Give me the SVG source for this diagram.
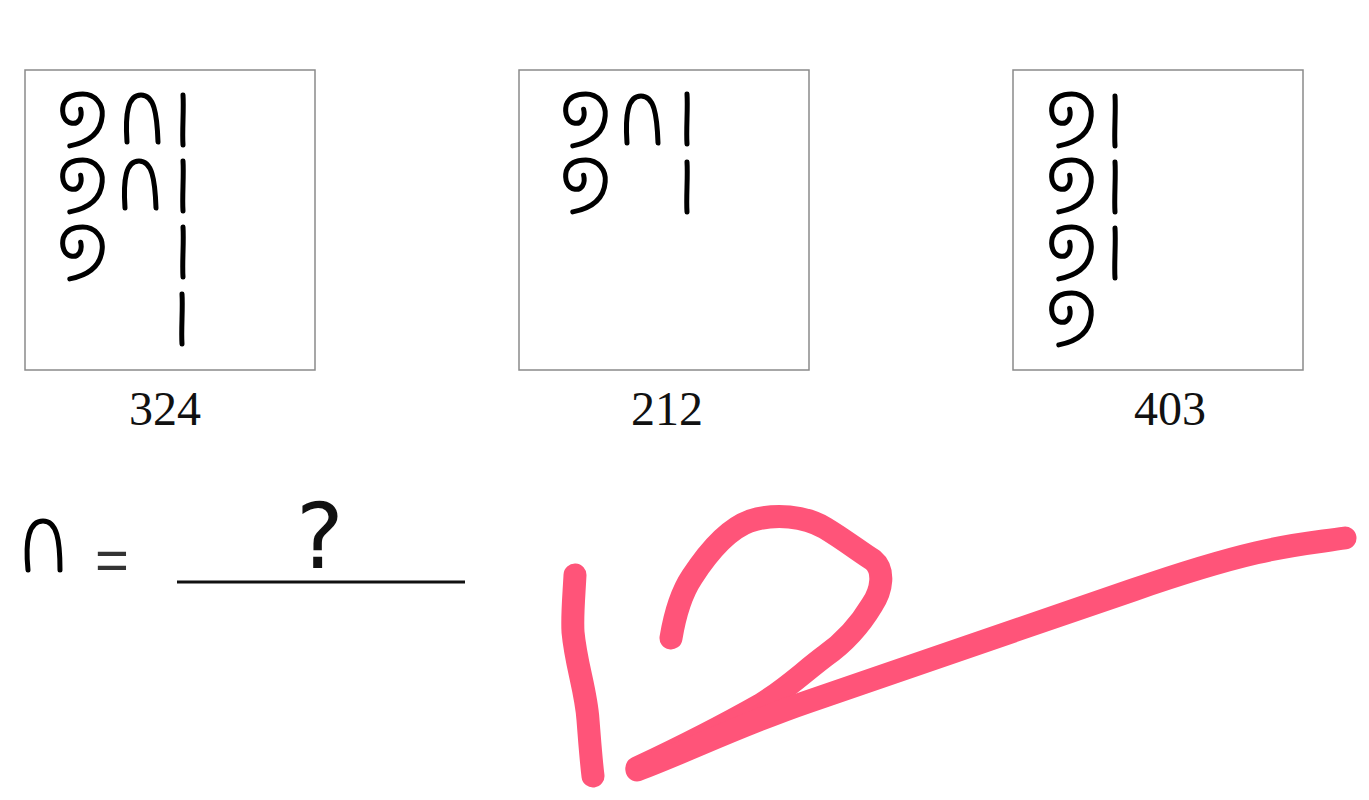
<svg xmlns="http://www.w3.org/2000/svg" xmlns:xlink="http://www.w3.org/1999/xlink" width="1369" height="800" viewBox="0 0 1369 800">
<style>
.box{fill:#fff;stroke:#8a8a8a;stroke-width:1.5}
.glyph{fill:none;stroke:#000;stroke-width:5;stroke-linecap:round;stroke-linejoin:round}
.num{font-family:"Liberation Serif",serif;font-size:48px;fill:#111;text-anchor:middle}
.pink{fill:none;stroke:#ff5479;stroke-width:23;stroke-linecap:round;stroke-linejoin:round}
</style>
<defs>
<path id="spiral" d="M21.6,16.2 C23.8,24.8 19.4,31.3 13,30.2 C5.4,29.2 2.2,20.5 4.3,11.9 C7.6,3.2 16.2,1.1 23.8,1.1 C35.6,1.1 44.3,10.8 43.2,22.7 C42.1,37.8 32.4,48.6 10.8,52.9"/>
<path id="arch" d="M3,49 C1,20 4,2 17,2 C30,2 33,20 34,49"/>
<path id="tick" d="M0,0 C1,15 -1,35 0,50"/>
</defs>
<rect width="1369" height="800" fill="#fff"/>
<g id="panel-324">
<rect class="box" x="25" y="70" width="290" height="300"/>
<g class="glyph">
<use xlink:href="#spiral" x="59" y="93"/>
<use xlink:href="#spiral" x="59" y="159"/>
<use xlink:href="#spiral" x="59" y="226"/>
<use xlink:href="#arch" x="124" y="93"/>
<use xlink:href="#arch" x="122" y="159"/>
<use xlink:href="#tick" x="183" y="95"/>
<use xlink:href="#tick" x="183" y="161"/>
<use xlink:href="#tick" x="183" y="227"/>
<use xlink:href="#tick" x="182" y="294"/>
</g>
<text class="num" x="165" y="425">324</text>
</g>
<g id="panel-212">
<rect class="box" x="519" y="70" width="290" height="300"/>
<g class="glyph">
<use xlink:href="#spiral" x="562" y="93"/>
<use xlink:href="#spiral" x="562" y="159"/>
<use xlink:href="#arch" x="624" y="94"/>
<use xlink:href="#tick" x="687" y="94"/>
<use xlink:href="#tick" x="687" y="162"/>
</g>
<text class="num" x="667" y="425">212</text>
</g>
<g id="panel-403">
<rect class="box" x="1013" y="70" width="290" height="300"/>
<g class="glyph">
<use xlink:href="#spiral" x="1048" y="93"/>
<use xlink:href="#spiral" x="1048" y="159"/>
<use xlink:href="#spiral" x="1048" y="226"/>
<use xlink:href="#spiral" x="1048" y="292"/>
<use xlink:href="#tick" x="1115" y="96"/>
<use xlink:href="#tick" x="1115" y="162"/>
<use xlink:href="#tick" x="1115" y="228"/>
</g>
<text class="num" x="1170" y="425">403</text>
</g>
<g id="question">
<path class="glyph" d="M28,570 C25,540 29,521 43,521 C57,521 60,540 60,570" stroke-width="5"/>
<text x="112" y="580" font-family="Liberation Sans, sans-serif" font-size="58" text-anchor="middle" fill="#333">=</text>
<line x1="177" y1="582" x2="465" y2="582" stroke="#111" stroke-width="3"/>
<text x="320" y="568" font-family="DejaVu Sans, sans-serif" font-size="90" text-anchor="middle" fill="#111">?</text>
</g>
<g id="answer">
<path class="pink" d="M575,575 C574,595 572,615 573,632 C576,665 586,690 588,720 C590,745 591,760 593,776"/>
<path class="pink" d="M671,638 C674,620 680,595 692,577 C705,557 725,530 750,521 C775,513 805,516 825,528 C845,540 860,552 873,560 C885,570 882,590 872,605 C860,625 845,642 825,656 C800,675 785,690 760,705 C730,722 690,743 637,768"/>
<path class="pink" d="M637,770 C690,750 740,725 807,702 S1000,636 1133,590 S1300,545 1345,538"/>
</g>
</svg>
